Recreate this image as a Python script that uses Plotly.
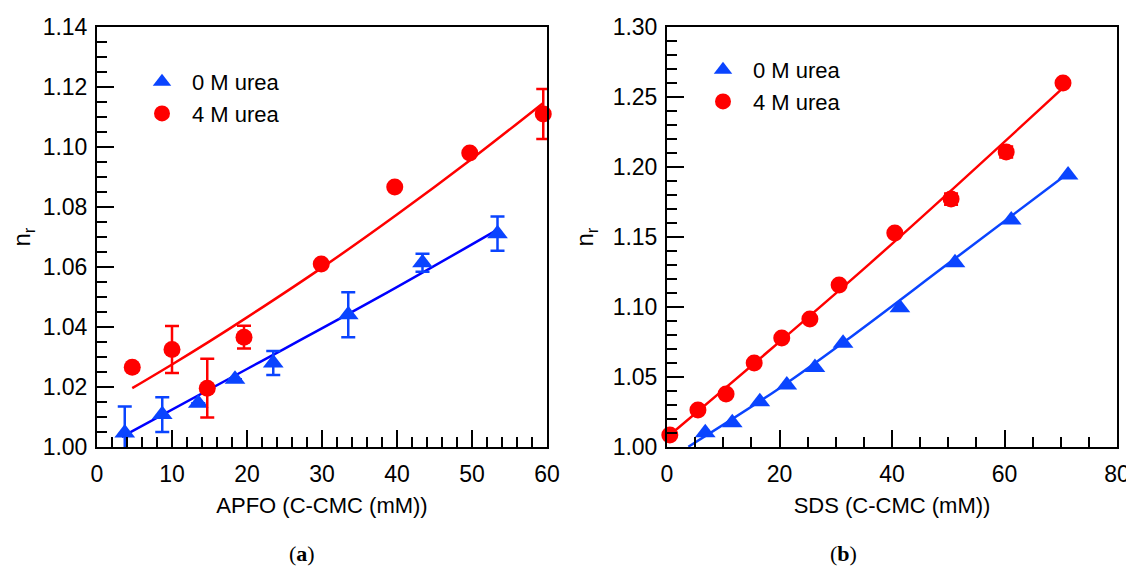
import plotly.graph_objects as go

# ---------------- Data: panel (a) APFO ----------------
apfo_x_0M = [3.7, 8.7, 13.5, 18.4, 23.5, 33.5, 43.4, 53.4]
apfo_y_0M = [1.0047, 1.0108, 1.0146, 1.0226, 1.0280, 1.0441, 1.0614, 1.0711]
apfo_e_0M = [0.0088, 0.0058, 0.0, 0.0, 0.0040, 0.0075, 0.0030, 0.0057]

apfo_x_4M = [4.7, 10.0, 14.7, 19.6, 29.9, 39.7, 49.7, 59.5]
apfo_y_4M = [1.0266, 1.0325, 1.0196, 1.0366, 1.0610, 1.0867, 1.0980, 1.1110]
apfo_e_4M = [0.0, 0.0078, 0.0098, 0.0038, 0.0, 0.0, 0.0, 0.0083]

apfo_fit_x_0M = [3.3, 20.0, 37.7, 53.3]
apfo_fit_y_0M = [1.0034, 1.0260, 1.0501, 1.0723]
apfo_fit_x_4M = [4.7, 10.0, 15.0, 20.0, 30.0, 40.0, 50.0, 59.5]
apfo_fit_y_4M = [1.0196, 1.0275, 1.0352, 1.0432, 1.0598, 1.0775, 1.0961, 1.1147]

# ---------------- Data: panel (b) SDS ----------------
sds_x_0M = [6.8, 11.6, 16.5, 21.3, 26.3, 31.3, 41.4, 51.2, 61.2, 71.3]
sds_y_0M = [1.0102, 1.0174, 1.0324, 1.0443, 1.0567, 1.0741, 1.0994, 1.1316, 1.1621, 1.1943]

sds_x_4M = [0.5, 5.5, 10.5, 15.5, 20.4, 25.4, 30.6, 40.5, 50.5, 60.3, 70.4]
sds_y_4M = [1.0086, 1.0264, 1.0379, 1.0600, 1.0779, 1.0914, 1.1157, 1.1529, 1.1771, 1.2107, 1.2600]
sds_e_4M = [0, 0, 0, 0, 0, 0, 0, 0, 0.004, 0.004, 0]

sds_fit_x_0M = [3.8, 20.0, 33.0, 50.0, 71.3]
sds_fit_y_0M = [1.0002, 1.0420, 1.0795, 1.1310, 1.1955]
sds_fit_x_4M = [0.5, 36.1, 70.4]
sds_fit_y_4M = [1.0086, 1.1312, 1.2565]

legend_labels = ["0 M urea", "4 M urea"]
panel_labels = ["(<b>a</b>)", "(<b>b</b>)"]
x_titles = ["APFO (C-CMC (mM))", "SDS (C-CMC (mM))"]

BLUE = "#0A44FF"
RED = "#FF0000"
FONT = "Liberation Sans, Arial, sans-serif"
SERIF = "Liberation Serif, Times New Roman, serif"

# page body adds an 8px offset, so the figure is drawn 8px smaller
OFF = 8
W, H = 1134 - OFF, 581 - OFF

fig = go.Figure()

def add_panel(xa, ya, leg, fx0, fy0, fx4, fy4, x0, y0, e0, x4, y4, e4, blue_line):
    fig.add_trace(go.Scatter(x=fx0, y=fy0, mode="lines", line=dict(color=blue_line, width=2.5, shape="spline"),
                             xaxis=xa, yaxis=ya, showlegend=False, hoverinfo="skip", cliponaxis=False))
    fig.add_trace(go.Scatter(x=fx4, y=fy4, mode="lines", line=dict(color=RED, width=2.5, shape="spline"),
                             xaxis=xa, yaxis=ya, showlegend=False, hoverinfo="skip", cliponaxis=False))
    fig.add_trace(go.Scatter(x=x0, y=y0, mode="markers", name=legend_labels[0],
                             marker=dict(symbol="triangle-up", size=18, color=BLUE),
                             error_y=dict(type="data", array=e0, visible=True, thickness=2.5, width=7, color=BLUE) if e0 else None,
                             xaxis=xa, yaxis=ya, legend=leg, cliponaxis=False))
    fig.add_trace(go.Scatter(x=x4, y=y4, mode="markers", name=legend_labels[1],
                             marker=dict(symbol="circle", size=17, color=RED),
                             error_y=dict(type="data", array=e4, visible=True, thickness=2.5, width=7, color=RED) if e4 else None,
                             xaxis=xa, yaxis=ya, legend=leg, cliponaxis=False))

add_panel("x", "y", "legend", apfo_fit_x_0M, apfo_fit_y_0M, apfo_fit_x_4M, apfo_fit_y_4M,
          apfo_x_0M, apfo_y_0M, apfo_e_0M, apfo_x_4M, apfo_y_4M, apfo_e_4M, "#0000FF")
add_panel("x2", "y2", "legend2", sds_fit_x_0M, sds_fit_y_0M, sds_fit_x_4M, sds_fit_y_4M,
          sds_x_0M, sds_y_0M, None, sds_x_4M, sds_y_4M, sds_e_4M, BLUE)

def px_x(p):
    return (p - OFF) / W

def px_y(p):
    return 1 - (p - OFF) / H

tickfont = dict(family=FONT, size=23, color="black")
axis_common = dict(showline=True, linecolor="black", linewidth=2, mirror=True,
                   ticks="inside", ticklen=17, tickwidth=2, tickcolor="black",
                   showgrid=False, zeroline=False, tickfont=tickfont, automargin=False)
minor_common = dict(ticks="inside", ticklen=10, tickwidth=2, tickcolor="black")

xdom1 = [px_x(97), px_x(547)]
xdom2 = [px_x(667), px_x(1117)]
ydom = [px_y(447), px_y(27)]

fig.update_layout(
    width=W, height=H,
    paper_bgcolor="white", plot_bgcolor="white",
    margin=dict(l=0, r=0, t=0, b=0),
    font=dict(family=FONT, size=22, color="black"),
    xaxis=dict(domain=xdom1, range=[0, 60], tick0=0, dtick=10, anchor="y",
               minor=dict(dtick=2, **minor_common),
               title=dict(text=x_titles[0], font=dict(family=FONT, size=22), standoff=12),
               ticklabelstandoff=5, **axis_common),
    yaxis=dict(domain=ydom, range=[1.0, 1.14], tick0=1.0, dtick=0.02, tickformat=".2f", anchor="x",
               minor=dict(dtick=0.005, **minor_common),
               title=dict(text="n<sub>r</sub>", font=dict(family=FONT, size=24), standoff=12),
               ticklabelstandoff=3, **axis_common),
    xaxis2=dict(domain=xdom2, range=[0, 80], tick0=0, dtick=20, anchor="y2",
                minor=dict(dtick=5, **minor_common),
                title=dict(text=x_titles[1], font=dict(family=FONT, size=22), standoff=12),
                ticklabelstandoff=5, **axis_common),
    yaxis2=dict(domain=ydom, range=[1.0, 1.30], tick0=1.0, dtick=0.05, tickformat=".2f", anchor="x2",
                minor=dict(dtick=0.01, **minor_common),
                title=dict(text="n<sub>r</sub>", font=dict(family=FONT, size=24), standoff=12),
                ticklabelstandoff=3, **axis_common),
    legend=dict(x=px_x(132), y=px_y(61), xanchor="left", yanchor="top", bgcolor="rgba(0,0,0,0)",
                font=dict(family=FONT, size=22), itemwidth=50, tracegroupgap=0),
    legend2=dict(x=px_x(693), y=px_y(49), xanchor="left", yanchor="top", bgcolor="rgba(0,0,0,0)",
                 font=dict(family=FONT, size=22), itemwidth=50, tracegroupgap=0),
    annotations=[
        dict(text=panel_labels[0], x=px_x(287), y=px_y(568), xref="paper", yref="paper",
             showarrow=False, font=dict(family=SERIF, size=22)),
        dict(text=panel_labels[1], x=px_x(859), y=px_y(568), xref="paper", yref="paper",
             showarrow=False, font=dict(family=SERIF, size=22)),
    ],
)

fig.write_html("out.html")
